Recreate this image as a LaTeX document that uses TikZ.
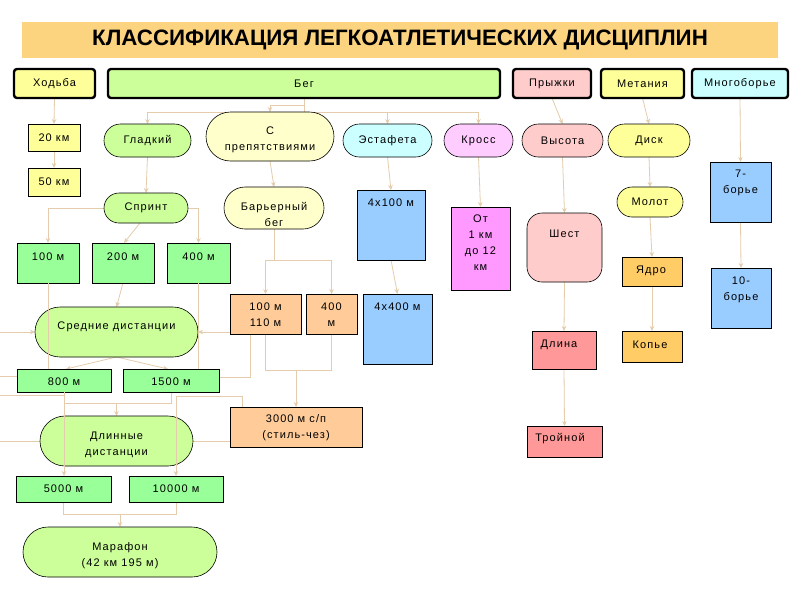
\documentclass[tikz,border=0pt]{standalone}
\usepackage{fontspec}
\setmainfont{Liberation Sans}
\newfontfamily\lsp{Liberation Sans}[LetterSpace=10]
\usetikzlibrary{shapes.misc,arrows.meta,backgrounds}
\pgfdeclarelayer{bottom}
\pgfsetlayers{bottom,background,main}
\definecolor{band}{RGB}{252,212,128}
\definecolor{yel}{RGB}{255,255,153}
\definecolor{pyel}{RGB}{255,255,204}
\definecolor{lgreen}{RGB}{204,255,153}
\definecolor{cgreen}{RGB}{153,255,153}
\definecolor{cpink}{RGB}{255,204,204}
\definecolor{ccyan}{RGB}{204,255,255}
\definecolor{viol}{RGB}{255,204,255}
\definecolor{mag}{RGB}{255,153,255}
\definecolor{cblue}{RGB}{153,204,255}
\definecolor{peach}{RGB}{255,204,153}
\definecolor{orng}{RGB}{255,204,102}
\definecolor{cred}{RGB}{255,153,153}
\definecolor{conn}{RGB}{228,204,172}
\tikzset{
  topbox/.style={draw=black, line width=2.4pt, rounded corners=3pt},
  plainbox/.style={draw=black, line width=0.6pt},
  stad/.style={draw=black, line width=0.6pt, rounded rectangle},
  barrel/.style={draw=black, line width=0.6pt, rounded corners=15pt},
  con/.style={draw=conn, line width=0.8pt},
  arr/.style={con, -{Stealth[length=5pt,width=4.5pt]}},
  txt/.style={font=\lsp\fontsize{11}{16}\selectfont, align=center, inner sep=0pt, text=black},
}
\newcommand\bx[9]{%
  \node[#2, anchor=center, inner sep=0pt, outer sep=0pt,
        minimum width={(#5-#3)*1pt}, minimum height={(#6-#4)*1pt}] (#1) at ({(#3+#5)/2},{(#4+#6)/2}) {};
  \node[txt] (#1-label) at (#7,#8) {#9};}
\begin{document}
\begin{tikzpicture}[x=1pt,y=-1pt]
\begin{pgfonlayer}{bottom}
\fill[white] (0,0) rectangle (800,600);
\end{pgfonlayer}
\useasboundingbox (0,0) rectangle (800,600);
% title
\node[fill=band, anchor=north west, inner sep=0pt, minimum width=756pt, minimum height=36pt] (title) at (22,22) {};
\node[font=\fontsize{22.3}{25}\selectfont\bfseries, inner sep=0pt] (title-label) at (400,40) {КЛАССИФИКАЦИЯ ЛЕГКОАТЛЕТИЧЕСКИХ ДИСЦИПЛИН};
% top row
\bx{hod}{topbox, fill=yel}{14}{69}{95}{98}{54.5}{84}{Ходьба}
\bx{beg}{topbox, fill=lgreen}{108}{69}{500}{98}{304}{84}{Бег}
\bx{pry}{topbox, fill=cpink}{513}{69}{591}{98}{552}{84}{Прыжки}
\bx{metan}{topbox, fill=yel}{601}{69}{684}{98}{642.5}{84}{Метания}
\bx{mno}{topbox, fill=ccyan}{692}{69}{788}{98}{740}{84}{Многоборье}
% row 2
\bx{km20}{plainbox, fill=yel}{28}{124}{80}{151}{54}{137.5}{20 км}
\bx{km50}{plainbox, fill=yel}{28}{168}{80}{196}{54}{182}{50 км}
\bx{gla}{stad, fill=lgreen}{104}{124}{191}{157}{147.5}{140.5}{Гладкий}
\bx{spr}{stad, fill=pyel}{206}{112}{334}{161}{270}{140}{С\\препятствиями}
\bx{est}{stad, fill=ccyan}{343}{124}{432}{157}{387.5}{140.5}{Эстафета}
\bx{kro}{stad, fill=viol}{444}{124}{513}{157}{478.5}{140.5}{Кросс}
\bx{vys}{stad, fill=cpink}{522}{124}{603}{157}{562.5}{140.5}{Высота}
\bx{dis}{stad, fill=yel}{608}{124}{690}{157}{649}{140.5}{Диск}
\bx{bsem}{plainbox, fill=cblue}{710}{162}{771}{222}{740.5}{183}{7-\\борье}
% row 3
\bx{spri}{stad, fill=lgreen}{104}{193}{188}{223}{146}{208}{Спринт}
\bx{bar}{stad, fill=pyel}{224}{187}{324}{229}{274}{214}{Барьерный\\бег}
\bx{rel1}{plainbox, fill=cblue}{357}{190}{425}{260}{391}{203}{4x100 м}
\bx{ot}{plainbox, fill=mag}{451}{207}{510}{290}{480.5}{243}{От\\1 км\\до 12\\км}
\bx{shest}{barrel, fill=cpink}{527}{213}{602}{282}{564.5}{234}{Шест}
\bx{mol}{stad, fill=yel}{617}{187}{683}{217}{650}{202}{Молот}
\bx{bdes}{plainbox, fill=cblue}{711}{268}{771}{328}{741}{290}{10-\\борье}
% row 4
\bx{ma}{plainbox, fill=cgreen}{17}{243}{79}{283}{48}{257}{100 м}
\bx{mb}{plainbox, fill=cgreen}{92}{243}{154}{283}{123}{257}{200 м}
\bx{mc}{plainbox, fill=cgreen}{167}{243}{230}{283}{198.5}{257}{400 м}
\bx{yad}{plainbox, fill=orng}{622}{257}{682}{286}{651}{271}{Ядро}
\bx{kop}{plainbox, fill=orng}{622}{331}{682}{362}{650}{345}{Копье}
\bx{dli}{plainbox, fill=cred}{532}{331}{596}{369}{559}{345}{Длина}
\bx{tro}{plainbox, fill=cred}{527}{426}{602}{457}{560}{439}{Тройной}
\bx{ha}{plainbox, fill=peach}{230}{294}{301}{334}{265.5}{315}{100 м\\110 м}
\bx{hb}{plainbox, fill=peach}{306}{294}{357}{334}{331.5}{315}{400\\м}
\bx{rel2}{plainbox, fill=cblue}{363}{294}{432}{364}{397.5}{307}{4x400 м}
\bx{sred}{stad, fill=lgreen}{35}{307}{198}{357}{116.5}{327}{Средние дистанции}
\bx{me}{plainbox, fill=cgreen}{17}{369}{111}{392}{64}{382}{800 м}
\bx{mf}{plainbox, fill=cgreen}{123}{369}{219}{392}{171}{382}{1500 м}
\bx{stee}{plainbox, fill=peach}{230}{407}{362}{447}{296}{428}{3000 м с/п\\(стиль-чез)}
\bx{dlin}{stad, fill=lgreen}{40}{416}{193}{466}{116.5}{445}{Длинные\\дистанции}
\bx{mg}{plainbox, fill=cgreen}{16}{476}{111}{502}{63.5}{489}{5000 м}
\bx{mh}{plainbox, fill=cgreen}{129}{476}{223}{502}{176}{489}{10000 м}
\bx{mar}{stad, fill=lgreen}{23}{527}{217}{577}{120}{555.5}{Марафон\\(42 км 195 м)}
% free ends at the left margin
\coordinate (la) at (0,332);
\coordinate (lb) at (0,376);
\coordinate (lc) at (0,395);
\coordinate (ld) at (0,441);
% connectors behind shapes
\begin{scope}[on background layer]
\draw[con] (beg.south) -- ++(0,14) coordinate (bus);
\draw[arr] (bus) -| (gla.north);
\draw[arr] (bus) -| (est.north);
\draw[arr] (bus) -| (kro.north);
\draw[arr] ([yshift=7pt]bus) -| (spr.north);
\draw[arr] (hod.south) -- (km20.north);
\draw[arr] (km20.south) -- (km50.north);
\draw[arr] (gla.south) -- (spri.north);
\draw[arr] (spr.south) -- (bar.north);
\draw[arr] (spri.west) -| (ma.north);
\draw[arr] (spri.east) -| (mc.north);
\draw[arr] ([xshift=-6pt]spri.south) -- ([xshift=1pt]mb.north);
\draw[con] (bar.south) -- ++(0,31) coordinate (bj);
\draw[arr] (bj) -| (ha.north);
\draw[arr] (bj) -| (hb.north);
\draw[arr] (est.south) -- (rel1.north);
\draw[arr] (rel1.south) -- (rel2.north);
\draw[arr] (kro.south) -- (ot.north);
\draw[arr] (pry.south) -- (vys.north);
\draw[arr] (vys.south) -- (shest.north);
\draw[arr] (shest.south) -- (dli.north);
\draw[arr] (dli.south) -- (tro.north);
\draw[arr] (metan.south) -- (dis.north);
\draw[arr] (dis.south) -- (mol.north);
\draw[arr] (mol.south) -- (yad.north);
\draw[arr] (yad.south) -- (kop.north);
\draw[arr] (mno.south) -- (bsem.north);
\draw[arr] (bsem.south) -- (bdes.north);
\draw[arr] (mb.south) -- (sred.north);
\draw[arr] (sred.south) -- ([xshift=2pt]me.north);
\draw[arr] (sred.south) -- ([xshift=-3pt]mf.north);
\draw[arr] (la) -- (sred.west);
\draw[arr] (ha.west |- sred.east) -- (sred.east);
\draw[con] ([xshift=-15.5pt]ha.south) |- ([yshift=3.5pt]mf.east);
\draw[con] (ha.south) -- ++(0,36) coordinate (hj) -| (hb.south);
\draw[arr] (stee.north |- hj) -- (stee.north);
\draw[con] (lb) -- (lb -| me.west);
\draw[con] (me.south) -- ++(0,11) coordinate (mj) -| (mf.south);
\draw[arr] (dlin.north |- mj) -- (dlin.north);
\draw[con] (lc) -- (lc -| me.south);
\draw[con] (ld) -- (dlin.west);
\draw[con] (dlin.east) -- (stee.west |- dlin.east);
\draw[con] (mg.south) -- ++(0,12) coordinate (gj) -| (mh.south);
\draw[arr] (mar.north |- gj) -- (mar.north);
\end{scope}
% connectors visible over shapes
\draw[con] (ma.south) -- (ma.south |- me.north);
\draw[con] (mc.south) -- (mc.south |- mf.north);
\draw[arr] (me.south) -- (me.south |- mg.north);
\draw[arr] ([xshift=-54pt]stee.north) -- ++(0,-11) -| (mh.north);
\end{tikzpicture}
\end{document}
